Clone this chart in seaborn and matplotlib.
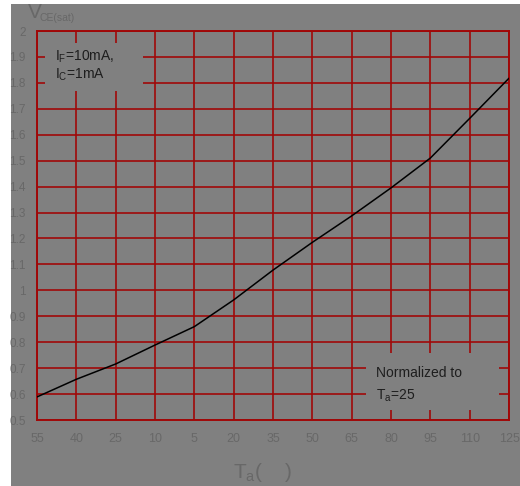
import matplotlib
matplotlib.use("Agg")
import matplotlib.pyplot as plt
from matplotlib.patches import Rectangle
import seaborn as sns
import pandas as pd

# Collector-emitter saturation voltage (normalized) vs ambient temperature
temps = [-55, -40, -25, -10, 5, 20, 35, 50, 65, 80, 95, 110, 125]
vce_sat = [0.589, 0.657, 0.716, 0.789, 0.86, 0.963, 1.078, 1.185, 1.287,
           1.395, 1.51, 1.663, 1.818]
x_tick_labels = ["55", "40", "25", "10", "5", "20", "35", "50", "65", "80",
                 "95", "110", "125"]
y_ticks = [0.5, 0.6, 0.7, 0.8, 0.9, 1.0, 1.1, 1.2, 1.3, 1.4, 1.5, 1.6, 1.7,
           1.8, 1.9, 2.0]
y_tick_labels = ["0.5", "0.6", "0.7", "0.8", "0.9", "1", "1.1", "1.2", "1.3",
                 "1.4", "1.5", "1.6", "1.7", "1.8", "1.9", "2"]

sns.set_theme(style="white")
plt.rcParams["font.family"] = ["Liberation Sans", "DejaVu Sans"]
plt.rcParams["mathtext.default"] = "regular"

GRAY = "#808080"
RED = "#a00808"
LABEL = "#686868"

fig = plt.figure(figsize=(5.2, 4.86), dpi=100, facecolor="white")
# gray canvas, leaving a thin white strip at the left and top
fig.patches.append(Rectangle((11 / 520, 0), 509 / 520, 482 / 486,
                             transform=fig.transFigure, facecolor=GRAY,
                             edgecolor="none", zorder=-10))
ax = fig.add_axes([37 / 520, 66 / 486, 472 / 520, 389 / 486])
ax.set_zorder(2)
ax.set_facecolor(GRAY)

df = pd.DataFrame({"T": temps, "V": vce_sat})
sns.lineplot(data=df, x="T", y="V", ax=ax, color="black", linewidth=1.1,
             zorder=5)

ax.set_xlim(-55, 125)
ax.set_ylim(0.5, 2.0)
ax.set_xticks(temps)
ax.set_xticklabels(x_tick_labels)
ax.set_yticks(y_ticks)
ax.set_yticklabels(y_tick_labels)
ax.tick_params(axis="both", length=0, labelsize=9, labelcolor=LABEL)
ax.tick_params(axis="y", labelsize=8.5, pad=8)
ax.tick_params(axis="x", pad=9)
ax.set_xlabel("")
ax.set_ylabel("")

ax.grid(True, color=RED, linewidth=1.2, zorder=1)
ax.set_axisbelow(True)
for sp in ax.spines.values():
    sp.set_color(RED)
    sp.set_linewidth(1.4)

# Gray panels behind the annotations hide the grid underneath
ax.add_patch(Rectangle((0.017, 0.846), 0.208, 0.123, transform=ax.transAxes,
                       facecolor=GRAY, edgecolor="none", zorder=3))
ax.add_patch(Rectangle((0.697, 0.026), 0.282, 0.146, transform=ax.transAxes,
                       facecolor=GRAY, edgecolor="none", zorder=3))

txt = dict(transform=ax.transAxes, color="#1e1e1e", fontsize=10,
           ha="left", va="center", zorder=6)
ax.text(0.038, 0.933, "I$_{F}$=10mA,", **txt)
ax.text(0.038, 0.887, "I$_{C}$=1mA", **txt)
ax.text(0.718, 0.121, "Normalized to", **txt)
ax.text(0.718, 0.062, "T$_{a}$=25", **txt)

# Axis titles
fig.text(28 / 520, 1 - 13 / 486, "V", color=LABEL, fontsize=15,
         ha="left", va="center")
fig.text(40 / 520, 1 - 18 / 486, "CE(sat)", color=LABEL, fontsize=7.5,
         ha="left", va="center")
fig.text(263 / 520, 1 - 472 / 486, "T$_{a}$(    )", color=LABEL, fontsize=15,
         ha="center", va="center")

fig.savefig("out.png", dpi=100, facecolor=fig.get_facecolor())
